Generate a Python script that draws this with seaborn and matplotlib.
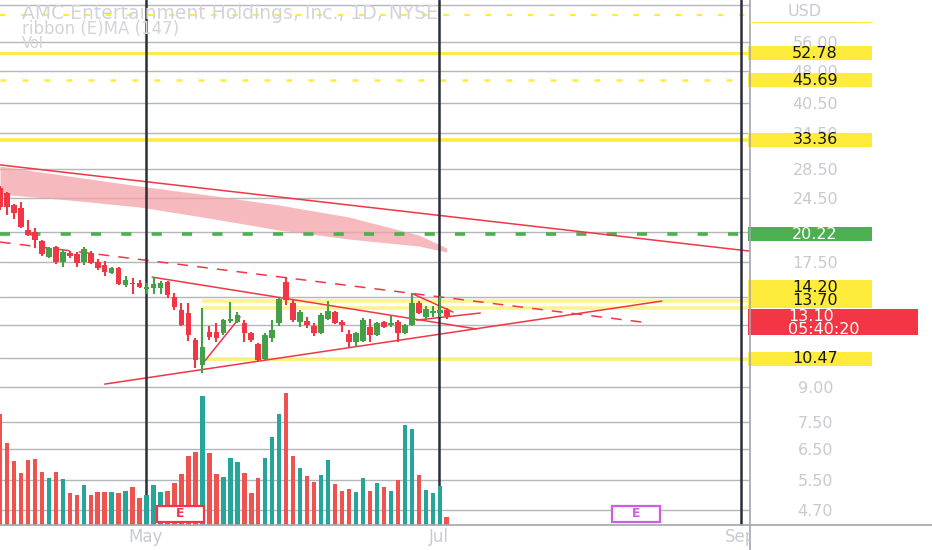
import numpy as np
import pandas as pd
import matplotlib
matplotlib.use("Agg")
import matplotlib.pyplot as plt
import seaborn as sns
from matplotlib.patches import Rectangle
from matplotlib.lines import Line2D
from matplotlib.ticker import NullLocator
from matplotlib.transforms import blended_transform_factory, Bbox, TransformedBbox

# AMC 1D candles (trading-day index 0..64)
opens = [25.83, 25.16, 23.61, 23.23, 20.68, 20.47, 19.51, 17.93, 18.90, 17.46,
         18.31, 18.22, 17.46, 18.31, 17.46, 17.19, 16.47, 16.91, 15.46, 15.62,
         15.62, 15.13, 15.21, 15.21, 15.71, 14.51, 13.54, 13.33, 11.55, 10.13,
         12.05, 12.05, 11.99, 12.77, 12.71, 12.64, 11.99, 11.31, 10.45, 11.68,
         12.64, 15.71, 14.06, 12.71, 12.77, 12.44, 11.99, 12.91, 13.40, 12.71,
         11.93, 11.43, 11.49, 12.38, 11.87, 12.71, 12.51, 12.71, 11.99, 12.51,
         14.06, 13.05, 13.33, 13.33, 13.54]
highs = [26.11, 25.29, 23.74, 23.99, 21.80, 20.90, 19.61, 18.90, 19.00, 18.60,
         18.50, 18.41, 18.90, 18.50, 17.74, 17.55, 17.00, 17.00, 16.21, 16.04,
         15.87, 15.62, 16.04, 15.79, 15.79, 14.82, 14.06, 14.06, 11.68, 13.69,
         12.44, 12.64, 12.91, 14.13, 13.40, 12.84, 12.05, 11.37, 11.99, 12.84,
         14.43, 16.13, 14.28, 13.54, 13.05, 12.64, 13.33, 14.21, 13.47, 12.84,
         12.18, 12.05, 12.98, 12.91, 12.71, 12.77, 13.19, 12.84, 12.57, 14.82,
         14.21, 13.84, 13.84, 14.58, 13.69]
lows = [22.98, 22.39, 21.92, 20.90, 20.04, 18.80, 18.02, 17.83, 17.28, 17.00,
        17.83, 17.00, 17.19, 17.28, 16.73, 16.21, 16.39, 15.46, 15.30, 14.74,
        15.21, 14.74, 14.74, 14.74, 14.43, 13.54, 12.44, 11.49, 9.97, 9.71,
        11.55, 11.43, 11.87, 12.64, 12.64, 11.43, 11.43, 10.28, 10.39, 11.43,
        12.44, 13.91, 12.71, 12.38, 12.31, 11.80, 11.93, 12.84, 12.57, 12.05,
        11.14, 11.14, 11.43, 11.43, 11.80, 12.31, 12.38, 11.43, 11.93, 12.44,
        13.26, 12.84, 13.05, 13.05, 12.91]
closes = [23.36, 23.36, 22.63, 21.02, 20.15, 19.61, 18.22, 18.80, 17.46, 18.41,
          18.02, 17.37, 18.70, 17.37, 16.91, 16.56, 16.91, 15.54, 15.87, 15.54,
          15.30, 15.30, 15.54, 15.62, 14.66, 13.76, 12.51, 11.87, 10.39, 11.14,
          11.74, 11.68, 12.84, 12.91, 13.19, 11.99, 11.55, 10.39, 11.87, 12.18,
          14.36, 14.28, 12.84, 13.40, 12.51, 11.99, 13.19, 13.47, 12.64, 12.51,
          11.43, 11.99, 12.84, 11.87, 12.64, 12.38, 12.64, 11.99, 12.51, 14.06,
          13.33, 13.61, 13.47, 13.54, 13.10]
# volume, millions (approx)
volumes = [111, 82, 64, 52, 65, 66, 53, 47, 53, 46,
           32, 30, 40, 30, 33, 33, 33, 32, 34, 38,
           27, 30, 40, 33, 34, 42, 51, 69, 73, 129,
           72, 51, 48, 67, 63, 52, 32, 47, 67, 88,
           111, 132, 69, 57, 49, 43, 50, 65, 41, 34,
           36, 33, 47, 34, 42, 38, 34, 45, 100, 96,
           50, 35, 32, 39, 8]

# EMA ribbon (147) band edges
ribbon_idx = [0, 10, 20, 30, 40, 50, 60, 64]
ribbon_top = [29.01, 27.51, 26.10, 24.88, 23.61, 22.16, 20.14, 18.80]
ribbon_bot = [25.02, 24.24, 23.36, 22.03, 20.68, 19.72, 19.00, 18.41]

# drawn trendlines: (x idx pair, price pair)
trend_long = ([0, 107.4], [29.2, 18.5])
trend_dashed = ([0, 93.1], [19.41, 12.64])
trend_upper = ([21.8, 68.3], [16.12, 12.25])
trend_lower = ([15.0, 94.8], [9.15, 14.20])
trend_swing = ([29.1, 34.4], [10.23, 13.05])
pennant_top = ([59.2, 64.9], [14.74, 13.40])
pennant_bot = ([59.7, 68.8], [12.84, 13.33])

# horizontal levels
level_top_dash = 64.5
level_5278 = 52.78
level_4569 = 45.69
level_3336 = 33.36
level_2022 = 20.22
level_1420 = 14.20
level_1370 = 13.70
level_1047 = 10.47
last_price = 13.10
countdown = "05:40:20"

month_pos = [20.9, 62.9, 106.1]
month_names = ["May", "Jul", "Sep"]

yticks = [4.7, 5.5, 6.5, 7.5, 9.0, 10.5, 12.5, 14.5, 17.5, 20.5, 24.5, 28.5, 34.5, 40.5, 48.0, 56.0, 68.0]
ytick_labels = ["4.70", "5.50", "6.50", "7.50", "9.00", "", "", "", "17.50", "", "24.50",
                "28.50", "34.50", "40.50", "48.00", "56.00", ""]

C_UP, C_DN = "#43a047", "#f23645"
V_UP, V_DN = "#26a69a", "#ef5350"
YEL = "#ffeb3b"
RED = "#f23645"
LIGHT = "#c8cacf"

sns.set_theme(style="white")
plt.rcParams["font.family"] = ["DejaVu Sans"]

W, H = 932, 550
fig = plt.figure(figsize=(W / 100, H / 100), dpi=100)
ax = fig.add_axes([0, 25 / H, 750 / W, 525 / H])
ax_vol = ax.twinx()

df = pd.DataFrame({"idx": np.arange(len(closes)), "open": opens, "high": highs,
                   "low": lows, "close": closes, "volume": volumes})
df["dir"] = np.where(df["close"] >= df["open"], "up", "down")

# volume pane
sns.barplot(data=df, x="idx", y="volume", hue="dir", hue_order=["up", "down"],
            palette={"up": V_UP, "down": V_DN}, native_scale=True, dodge=False,
            width=0.64, errorbar=None, legend=False, saturation=1, linewidth=0, ax=ax_vol)
ax_vol.set_ylim(0, 525)
ax_vol.set_yticks([])
ax_vol.set_ylabel("")
ax_vol.set_xlabel("")

# price pane
ax.set_yscale("log")
ax.yaxis.tick_right()
cols = np.where(df["dir"] == "up", C_UP, C_DN)
ax.vlines(df["idx"], df["low"], df["high"], colors=cols, lw=1.5, zorder=5)
ax.bar(df["idx"], (df["close"] - df["open"]).abs(), bottom=df[["open", "close"]].min(axis=1),
       width=0.8, color=cols, lw=0, zorder=6)

ax.fill_between(ribbon_idx, ribbon_bot, ribbon_top, color="#f4a3a8", alpha=0.75, lw=0, zorder=2)

ax.axhline(level_top_dash, color=YEL, lw=1.6, dashes=(2.5, 7), zorder=3)
ax.axhline(level_5278, color=YEL, lw=2.0, zorder=3)
ax.axhline(level_4569, color=YEL, lw=1.8, dashes=(2.3, 6.5), zorder=3)
ax.axhline(level_3336, color=YEL, lw=2.6, zorder=3)
ax.axhline(level_2022, color="#4caf50", lw=2.6, dashes=(2.8, 5.6), zorder=3)
ax.hlines([level_1420, level_1370], 29, 110, color="#fff176", lw=2.6, alpha=0.8, zorder=3)
ax.hlines(level_1047, 29, 110, color="#fff176", lw=2.0, zorder=3)

for xs, ys in [trend_long, trend_upper, trend_lower, trend_swing, pennant_top, pennant_bot]:
    ax.plot(xs, ys, color=RED, lw=1.1, zorder=4)
ax.plot(trend_dashed[0], trend_dashed[1], color=RED, lw=1.1, dashes=(7, 6), zorder=4)

for m in month_pos:
    ax.axvline(m, color="#2a2e39", lw=1.8, zorder=4)

ax.set_xlim(0, 107.45)
ax.set_ylim(4.34, 69.9)
ax.set_xticks([])
ax.set_yticks(yticks)
ax.set_yticklabels(ytick_labels)
ax.yaxis.set_minor_locator(NullLocator())
ax.tick_params(axis="y", which="both", length=0, labelright=True, labelleft=False,
               pad=47, labelsize=11.5, labelcolor=LIGHT)
for lbl in ax.get_yticklabels():
    lbl.set_ha("center")
ax.grid(axis="y", color="#b4b6bc", lw=1.0)
ax.grid(axis="x", visible=False)
ax.set_axisbelow(True)
for a in (ax, ax_vol):
    for s in a.spines.values():
        s.set_visible(False)

# pane separators
fig.add_artist(Line2D([750 / W] * 2, [0, 1], color="#a3a6af", lw=1.2, transform=fig.transFigure))
fig.add_artist(Line2D([0, 1], [25 / H] * 2, color="#a3a6af", lw=1.2, transform=fig.transFigure))
fig.add_artist(Line2D([750 / W, 872 / W], [1 - 22 / H] * 2, color=YEL, lw=0.8, transform=fig.transFigure))


def fig_y(price):
    return fig.transFigure.inverted().transform(ax.transData.transform((0, price)))[1]


def add_tag(price, text, face, tcolor, up_px=0):
    yc = fig_y(price) + up_px / H
    fig.add_artist(Rectangle((748 / W, yc - 7 / H), 124 / W, 14 / H, transform=fig.transFigure,
                             facecolor=face, edgecolor="none", zorder=1))
    fig.text(815 / W, yc, text, ha="center", va="center", color=tcolor, fontsize=11.5)


for val in [level_5278, level_4569, level_3336, level_1047]:
    add_tag(val, f"{val:.2f}", YEL, "#131722")
add_tag(level_2022, f"{level_2022:.2f}", "#4caf50", "white")
add_tag(level_1420, f"{level_1420:.2f}", YEL, "#131722", up_px=14)
add_tag(level_1370, f"{level_1370:.2f}", YEL, "#131722", up_px=7)

yl = fig_y(last_price)
fig.add_artist(Rectangle((748 / W, yl - 19 / H), 170 / W, 26 / H, transform=fig.transFigure,
                         facecolor=RED, edgecolor="none", zorder=1))
fig.text(788 / W, yl, f"{last_price:.2f}", ha="left", va="center", color="white", fontsize=11.5)
fig.text(788 / W, yl - 13 / H, countdown, ha="left", va="center", color="white", fontsize=11.5)

fig.text(788 / W, 1 - 12 / H, "USD", ha="left", va="center", color=LIGHT, fontsize=11.5)

# legend lines top-left
fig.text(22 / W, 1 - 13.5 / H, "AMC Entertainment Holdings, Inc., 1D, NYSE", ha="left", va="center",
         color="#d3d4d8", fontsize=13.5)
fig.text(22 / W, 1 - 29 / H, "ribbon (E)MA (147)", ha="left", va="center", color="#d3d4d8", fontsize=12)
fig.text(22 / W, 1 - 44 / H, "Vol", ha="left", va="center", color="#d3d4d8", fontsize=10.5)

# month labels on the time axis
xtrans = blended_transform_factory(ax.transData, fig.transFigure)
clip = TransformedBbox(Bbox.from_extents(0, 0, 750 / W, 1), fig.transFigure)
for m, name in zip(month_pos, month_names):
    t = fig.text(m, 13 / H, name, transform=xtrans, ha="center", va="center", color=LIGHT, fontsize=12)
    t.set_clip_on(True)
    t.set_clip_box(clip)

# earnings badges
btrans = blended_transform_factory(ax_vol.transData, ax_vol.transAxes)
for (x0, x1), ec in [((22.5, 29.2), "#f23645"), ((87.7, 94.6), "#d05ce3")]:
    ax_vol.add_patch(Rectangle((x0, 0.006), x1 - x0, 0.03, transform=btrans, facecolor="white",
                               edgecolor=ec, lw=1.6, zorder=10))
    ax_vol.text((x0 + x1) / 2, 0.021, "E", transform=btrans, ha="center", va="center",
                color=ec, fontsize=9, fontweight="bold", zorder=11)

fig.savefig("out.png", dpi=100)
